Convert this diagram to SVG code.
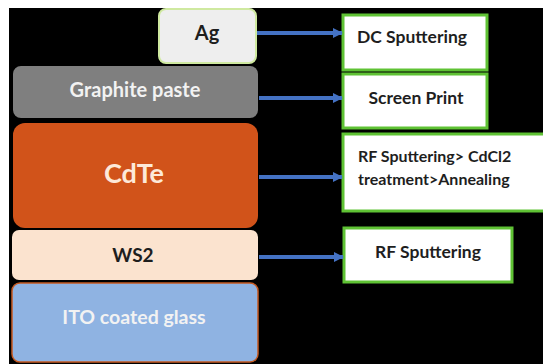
<svg xmlns="http://www.w3.org/2000/svg" width="543" height="364" viewBox="0 0 543 364">
  <defs>
    <style>
      .layer { stroke-width: 1.5; }
      .step { fill: #ffffff; stroke: #5fc234; stroke-width: 3; }
      .lbl { font-family: Lato, "Liberation Sans", sans-serif; font-weight: bold; text-anchor: middle; }
      .stepTxt { font-family: Lato, "Liberation Sans", sans-serif; font-weight: bold; font-size: 17.5px; fill: #1e1e1e; }
      .arrow { stroke: #4472c4; stroke-width: 4; fill: none; marker-end: url(#head); }
    </style>
    <marker id="head" viewBox="0 0 10 10" refX="9" refY="5" markerWidth="2.6" markerHeight="2.8" orient="auto" markerUnits="strokeWidth">
      <path d="M0,0 L10,5 L0,10 z" fill="#4472c4"/>
    </marker>
  </defs>

  <!-- page and dark panel -->
  <rect x="0" y="0" width="543" height="364" fill="#ffffff"/>
  <rect x="9" y="8" width="534" height="356" fill="#000000"/>

  <!-- device stack -->
  <g id="ag">
    <rect x="159" y="9" width="97" height="54" rx="7" fill="#eeeeee" stroke="#cfe9a0" stroke-width="2"/>
    <text class="lbl" x="207" y="40" font-size="20" fill="#1e1e1e">Ag</text>
  </g>
  <g id="graphite">
    <rect x="13" y="66" width="245" height="52" rx="8" fill="#7f7f7f"/>
    <text class="lbl" x="135" y="97" font-size="20" fill="#f2f2f2">Graphite paste</text>
  </g>
  <g id="cdte">
    <rect x="13" y="123" width="245" height="105" rx="12" fill="#d1531a"/>
    <text class="lbl" x="134" y="183" font-size="27" fill="#fde9d9">CdTe</text>
  </g>
  <g id="ws2">
    <rect x="12" y="230" width="246" height="50" rx="7" fill="#fbe3cf"/>
    <text class="lbl" x="133" y="262" font-size="19" fill="#1e1e1e">WS2</text>
  </g>
  <g id="ito">
    <rect x="12" y="283" width="246" height="79" rx="8" fill="#8fb3e2" stroke="#c55a22" class="layer"/>
    <text class="lbl" x="134" y="324" font-size="19.5" fill="#f2f2f2">ITO coated glass</text>
  </g>

  <!-- process steps -->
  <g id="dc-sputtering">
    <rect class="step" x="343" y="15" width="144" height="55"/>
    <text class="stepTxt" x="412" y="43" text-anchor="middle">DC Sputtering</text>
  </g>
  <g id="screen-print">
    <rect class="step" x="343" y="74" width="144" height="54"/>
    <text class="stepTxt" x="416" y="104" text-anchor="middle">Screen Print</text>
  </g>
  <g id="rf-cdcl2-anneal">
    <rect class="step" x="343" y="134" width="203" height="77"/>
    <text class="stepTxt" x="358" y="162" style="font-size:16px">RF Sputtering&gt; CdCl2</text>
    <text class="stepTxt" x="358" y="185" style="font-size:16px">treatment&gt;Annealing</text>
  </g>
  <g id="rf-sputtering">
    <rect class="step" x="344" y="228" width="168" height="54"/>
    <text class="stepTxt" x="428" y="258" text-anchor="middle">RF Sputtering</text>
  </g>

  <!-- connectors -->
  <g id="connectors">
    <line class="arrow" x1="257" y1="33" x2="342" y2="33"/>
    <line class="arrow" x1="259" y1="98" x2="342" y2="98"/>
    <line class="arrow" x1="259" y1="177" x2="342" y2="177"/>
    <line class="arrow" x1="259" y1="257" x2="343" y2="257"/>
  </g>
</svg>
